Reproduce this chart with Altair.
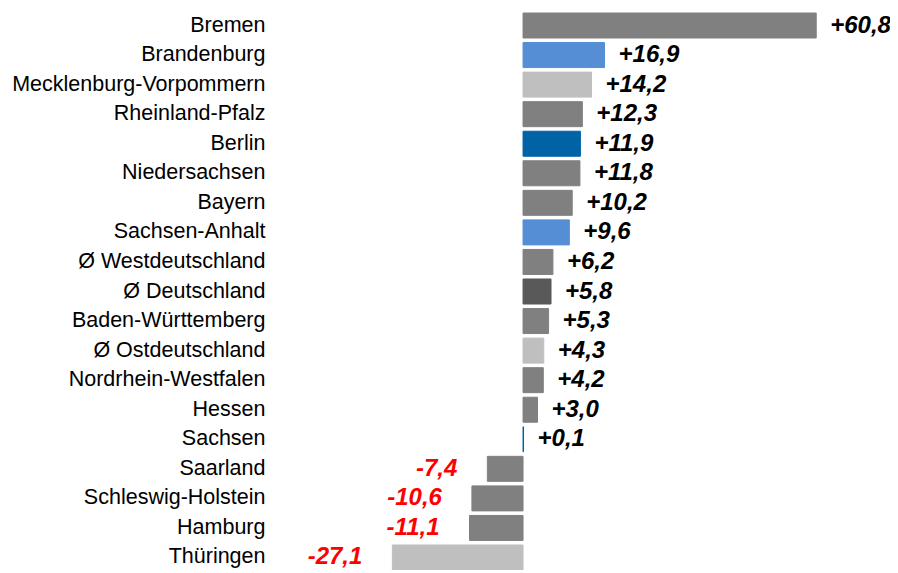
import altair as alt
import pandas as pd

regions = ["Bremen", "Brandenburg", "Mecklenburg-Vorpommern", "Rheinland-Pfalz", "Berlin",
           "Niedersachsen", "Bayern", "Sachsen-Anhalt", "Ø Westdeutschland", "Ø Deutschland",
           "Baden-Württemberg", "Ø Ostdeutschland", "Nordrhein-Westfalen", "Hessen", "Sachsen",
           "Saarland", "Schleswig-Holstein", "Hamburg", "Thüringen"]
values = [60.8, 16.9, 14.2, 12.3, 11.9, 11.8, 10.2, 9.6, 6.2, 5.8, 5.3, 4.3, 4.2, 3.0, 0.1,
          -7.4, -10.6, -11.1, -27.1]
colors = ["#808080", "#558ED5", "#BFBFBF", "#808080", "#0063A6", "#808080", "#808080", "#558ED5",
          "#808080", "#595959", "#808080", "#BFBFBF", "#808080", "#808080", "#0063A6", "#808080",
          "#808080", "#808080", "#BFBFBF"]

df = pd.DataFrame({"region": regions, "value": values, "color": colors})
df["label"] = [("+" if v >= 0 else "") + f"{v:.1f}".replace(".", ",") for v in values]

y = alt.Y("region:N", sort=regions,
          scale=alt.Scale(paddingInner=0.154, paddingOuter=0.0),
          axis=alt.Axis(title=None, ticks=False, domain=False, labelPadding=15,
                        labelFontSize=21.5, labelFont="Liberation Sans", labelColor="#000000",
                        labelLimit=400))
x = alt.X("value:Q", scale=alt.Scale(domain=[-50.4, 76.1], nice=False, zero=False), axis=None)

bars = alt.Chart(df).mark_bar(strokeWidth=1).encode(
    x=x, x2=alt.datum(0), y=y,
    color=alt.Color("color:N", scale=None),
    stroke=alt.Stroke("color:N", scale=None))

pos = alt.Chart(df).transform_filter("datum.value >= 0").mark_text(
    align="left", baseline="middle", dx=14, font="Liberation Sans", fontSize=24,
    fontWeight="bold", fontStyle="italic", color="#000000"
).encode(x=x, y=y, text="label:N")

neg = alt.Chart(df).transform_filter("datum.value < 0").mark_text(
    align="right", baseline="middle", dx=-30, font="Liberation Sans", fontSize=24,
    fontWeight="bold", fontStyle="italic", color="#FF0000"
).encode(x=x, y=y, text="label:N")

chart = (bars + pos + neg).properties(
    width=610, height=557,
    autosize=alt.AutoSizeParams(type="none"),
    padding={"left": 272, "top": 5, "right": 0, "bottom": 0},
).configure_view(stroke=None)

chart.save("out.html", embed_options={"renderer": "svg", "actions": False})
